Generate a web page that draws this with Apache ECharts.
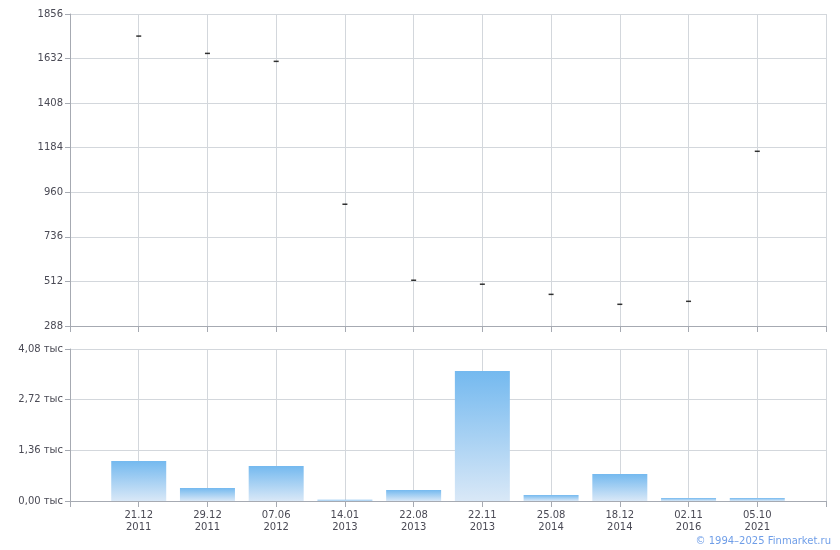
<!DOCTYPE html>
<html>
<head>
<meta charset="utf-8">
<script src="https://cdn.jsdelivr.net/npm/echarts@6/dist/echarts.min.js"></script>
<style>html,body{margin:0;padding:0;background:#fff;}#c{width:840px;height:550px;}</style>
</head>
<body>
<div id="c"></div>
<script>
// Categories (with empty slots at both ends, as on the reference axis)
var categories = ['', '21.12\n2011', '29.12\n2011', '07.06\n2012', '14.01\n2013', '22.08\n2013', '22.11\n2013', '25.08\n2014', '18.12\n2014', '02.11\n2016', '05.10\n2021', ''];
// Price marks (top panel)
var priceValues = ['-', 1745, 1658, 1618, 900, 518, 498, 447, 397, 412, 1166, '-'];
// Volume (bottom panel)
var volumeValues = ['-', 1074, 349, 939, 35, 295, 3489, 161, 725, 80, 80, '-'];
// Tick labels
var priceTicks = [288, 512, 736, 960, 1184, 1408, 1632, 1856];
var volumeTicks = [0, 1360, 2720, 4080];

var gridColor = '#d3d7dc';
var axisColor = '#a6aab2';
var labelColor = '#4a4a55';
var font = 'DejaVu Sans';

var chart = echarts.init(document.getElementById('c'), null, {renderer: 'canvas'});
chart.setOption({
  animation: false,
  backgroundColor: '#ffffff',
  grid: [
    {left: 70, right: 14, top: 14, height: 312},
    {left: 70, right: 14, top: 349, height: 152}
  ],
  xAxis: [
    {
      type: 'category', gridIndex: 0, data: categories, boundaryGap: false,
      axisLine: {lineStyle: {color: axisColor}},
      axisTick: {show: true, length: 6, lineStyle: {color: axisColor}},
      axisLabel: {show: false},
      splitLine: {show: true, lineStyle: {color: gridColor}}
    },
    {
      type: 'category', gridIndex: 1, data: categories, boundaryGap: false,
      axisLine: {lineStyle: {color: axisColor}},
      axisTick: {show: true, length: 6, lineStyle: {color: axisColor}},
      axisLabel: {show: true, color: labelColor, fontFamily: font, fontSize: 10, lineHeight: 12, margin: 8, interval: 0},
      splitLine: {show: true, lineStyle: {color: gridColor}}
    }
  ],
  yAxis: [
    {
      type: 'value', gridIndex: 0, min: priceTicks[0], max: priceTicks[priceTicks.length - 1],
      axisLine: {show: true, lineStyle: {color: axisColor}},
      axisTick: {show: true, length: 5, lineStyle: {color: axisColor}, customValues: priceTicks},
      axisLabel: {color: labelColor, fontFamily: font, fontSize: 10, margin: 7, customValues: priceTicks,
        formatter: function (v) { return String(Math.round(v)); }},
      splitLine: {show: true, lineStyle: {color: gridColor}}
    },
    {
      type: 'value', gridIndex: 1, min: volumeTicks[0], max: volumeTicks[volumeTicks.length - 1], interval: volumeTicks[1] - volumeTicks[0],
      axisLine: {show: true, lineStyle: {color: axisColor}},
      axisTick: {show: true, length: 5, lineStyle: {color: axisColor}},
      axisLabel: {color: labelColor, fontFamily: font, fontSize: 10, margin: 7,
        formatter: function (v) { return (v / 1000).toFixed(2).replace('.', ',') + ' тыс'; }},
      splitLine: {show: true, lineStyle: {color: gridColor}}
    }
  ],
  series: [
    {
      type: 'scatter', xAxisIndex: 0, yAxisIndex: 0, data: priceValues,
      symbol: 'rect', symbolSize: [5, 1.5],
      itemStyle: {color: '#000000'}
    },
    {
      type: 'bar', xAxisIndex: 1, yAxisIndex: 1, data: volumeValues,
      barWidth: '80%',
      itemStyle: {
        color: new echarts.graphic.LinearGradient(0, 0, 0, 1, [
          {offset: 0, color: '#74b9ef'},
          {offset: 1, color: '#d9e8f7'}
        ])
      }
    }
  ],
  graphic: [
    {
      type: 'text', right: 9, top: 536,
      style: {text: '© 1994–2025 Finmarket.ru', fill: '#6f9ee8', font: '10px "DejaVu Sans"'}
    }
  ]
});
</script>
</body>
</html>
